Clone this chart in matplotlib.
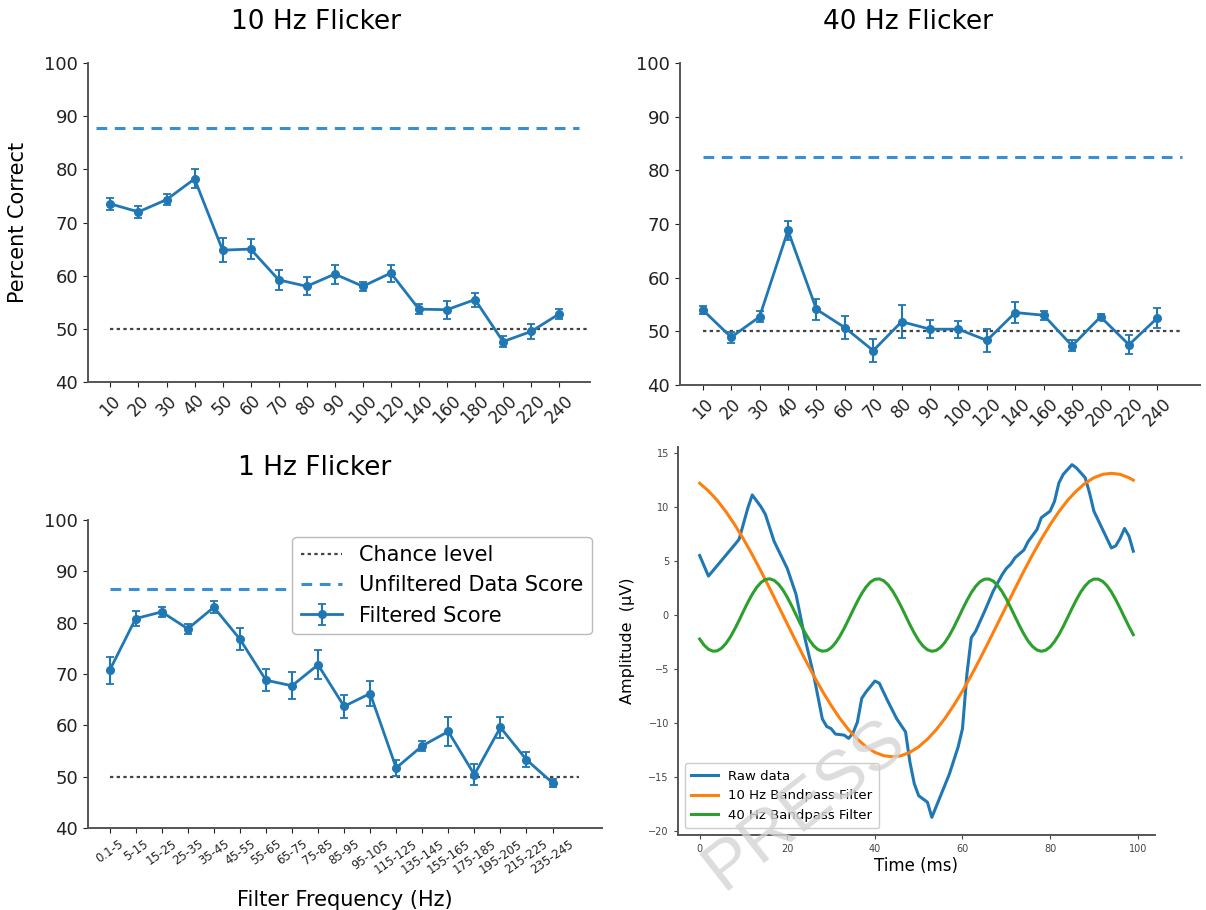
import matplotlib.pyplot as plt
import numpy as np

plt.rcParams['font.family'] = ['DejaVu Sans']

# --- decoding scores ---
freq_labels = ['10', '20', '30', '40', '50', '60', '70', '80', '90', '100',
               '120', '140', '160', '180', '200', '220', '240']

score_10hz = [73.5, 72.0, 74.3, 78.2, 64.8, 65.0, 59.2, 58.0, 60.3, 58.0,
              60.5, 53.7, 53.6, 55.5, 47.6, 49.5, 52.8]
err_10hz = [1.2, 1.1, 1.0, 1.8, 2.3, 1.9, 1.9, 1.7, 1.8, 0.8,
            1.6, 1.0, 1.7, 1.3, 1.0, 1.5, 1.0]
unfilt_10hz = 87.7

score_40hz = [54.0, 48.9, 52.7, 68.8, 54.1, 50.7, 46.4, 51.8, 50.4, 50.4,
              48.3, 53.5, 53.0, 47.3, 52.7, 47.5, 52.5]
err_40hz = [0.7, 1.0, 1.0, 1.8, 1.9, 2.2, 2.2, 3.1, 1.7, 1.6,
            2.1, 2.0, 0.8, 1.0, 0.6, 1.8, 1.8]
unfilt_40hz = 82.4

band_labels = ['0.1-5', '5-15', '15-25', '25-35', '35-45', '45-55', '55-65',
               '65-75', '75-85', '85-95', '95-105', '115-125', '135-145',
               '155-165', '175-185', '195-205', '215-225', '235-245']
score_1hz = [70.7, 80.8, 82.1, 78.8, 83.0, 76.8, 68.8, 67.7, 71.8, 63.7,
             66.2, 51.7, 56.0, 58.8, 50.4, 59.6, 53.3, 48.8]
err_1hz = [2.7, 1.5, 1.0, 1.0, 1.2, 2.2, 2.1, 2.6, 2.8, 2.3,
           2.5, 1.5, 1.0, 2.8, 2.0, 2.0, 1.5, 0.8]
unfilt_1hz = 86.5

chance = 50

# --- example trace (ms, uV) ---
raw_t = [0, 2, 8, 9, 11, 12, 14, 15, 17, 20, 22, 24, 26, 28, 29, 30, 31, 33,
         34, 35, 36, 37, 38, 40, 41, 43, 45, 47, 48, 49, 50, 52, 53, 55, 57,
         59, 60, 61, 62, 63, 65, 67, 69, 70, 71, 72, 74, 75, 77, 78, 79, 80,
         81, 82, 83, 85, 86, 88, 89, 90, 92, 94, 95, 96, 97, 98, 99]
raw_v = [5.5, 3.6, 6.5, 7.0, 9.9, 11.1, 10.0, 9.3, 6.8, 4.3, 1.9, -2.1, -5.5,
         -9.6, -10.3, -10.5, -11.0, -11.1, -11.4, -10.9, -9.9, -7.7, -7.1,
         -6.1, -6.3, -8.0, -9.6, -10.8, -13.6, -15.6, -16.7, -17.3, -18.7,
         -16.7, -14.7, -12.2, -10.5, -5.5, -2.1, -1.5, 0.3, 2.2, 3.7, 4.3, 4.7,
         5.3, 6.0, 6.8, 7.9, 9.0, 9.3, 9.6, 10.5, 12.2, 13.0, 13.9, 13.6, 12.7,
         11.3, 9.6, 7.9, 6.2, 6.4, 7.1, 8.0, 7.3, 5.9]

bp10_t = [0, 2, 4, 6, 8, 10, 12, 14, 16, 18, 20, 22, 24, 26, 28, 30, 32, 34,
          36, 38, 40, 42, 44, 46, 48, 50, 52, 54, 56, 58, 60, 62, 64, 66, 68,
          70, 72, 74, 76, 78, 80, 82, 84, 86, 88, 90, 92, 94, 96, 98, 99]
bp10_v = [12.18, 11.47, 10.60, 9.55, 8.35, 7.02, 5.58, 4.05, 2.45, 0.82,
          -0.82, -2.45, -4.05, -5.58, -7.02, -8.35, -9.55, -10.60, -11.47,
          -12.18, -12.69, -13.0, -13.1, -13.0, -12.69, -12.18, -11.47, -10.60,
          -9.55, -8.35, -7.02, -5.58, -4.05, -2.45, -0.82, 0.82, 2.45, 4.05,
          5.58, 7.02, 8.35, 9.55, 10.60, 11.47, 12.18, 12.69, 13.0, 13.1, 13.0,
          12.69, 12.46]

bp40_t = list(range(100))
bp40_v = [-2.22, -2.78, -3.16, -3.34, -3.31, -3.06, -2.63, -2.03, -1.30, -0.49,
          0.36, 1.18, 1.92, 2.55, 3.01, 3.28, 3.35, 3.20, 2.85, 2.32,
          1.64, 0.86, 0.02, -0.82, -1.60, -2.28, -2.83, -3.19, -3.34, -3.29,
          -3.03, -2.58, -1.96, -1.22, -0.40, 0.44, 1.26, 1.99, 2.60, 3.05,
          3.30, 3.34, 3.17, 2.80, 2.25, 1.56, 0.78, -0.06, -0.90, -1.67,
          -2.35, -2.87, -3.21, -3.35, -3.27, -2.99, -2.52, -1.89, -1.14, -0.32,
          0.53, 1.34, 2.06, 2.65, 3.08, 3.31, 3.33, 3.14, 2.75, 2.19,
          1.49, 0.69, -0.15, -0.98, -1.75, -2.41, -2.91, -3.23, -3.35, -3.25,
          -2.95, -2.46, -1.82, -1.06, -0.23, 0.61, 1.41, 2.13, 2.70, 3.11,
          3.32, 3.32, 3.11, 2.71, 2.13, 1.41, 0.61, -0.23, -1.06, -1.82]

W, H = 1206, 910
fig = plt.figure(figsize=(W / 100, H / 100), dpi=100)


def px_axes(left, top, right, bottom):
    # axes box given in picture pixels
    return fig.add_axes([left / W, 1 - bottom / H, (right - left) / W, (bottom - top) / H])


def style_spines(ax):
    for s in ['top', 'right']:
        ax.spines[s].set_visible(False)
    for s in ['left', 'bottom']:
        ax.spines[s].set_color('#555555')
        ax.spines[s].set_linewidth(1.4)


def score_panel(ax, labels, scores, errs, unfilt, dash_span, dot_span, xlim,
                rot, tick_fs):
    x = np.arange(len(labels))
    ax.hlines(chance, dot_span[0], dot_span[1], colors='#444444',
              linestyles=(0, (1.5, 1.5)), linewidth=1.6, label='Chance level')
    ax.hlines(unfilt, dash_span[0], dash_span[1], colors='#3a8ed4',
              linestyles=(0, (3.5, 2.5)), linewidth=2.2, label='Unfiltered Data Score')
    ax.errorbar(x, scores, yerr=errs, color='#1f77b4', marker='o', ms=5.5,
                lw=2, elinewidth=1.5, capsize=3, capthick=1.3, label='Filtered Score')
    ax.set_ylim(40, 100)
    ax.set_xlim(*xlim)
    ax.set_yticks([40, 50, 60, 70, 80, 90, 100])
    ax.set_xticks(x)
    ax.set_xticklabels(labels, rotation=rot, fontsize=tick_fs)
    ax.tick_params(axis='y', labelsize=13, colors='#222222')
    ax.tick_params(axis='x', colors='#222222')
    style_spines(ax)


# 10 Hz flicker
ax1 = px_axes(88, 63, 590, 382)
score_panel(ax1, freq_labels, score_10hz, err_10hz, unfilt_10hz,
            (-0.5, 16.7), (0, 17.1), (-0.8, 17.1), 45, 12)
ax1.set_ylabel('Percent Correct', fontsize=15, labelpad=12)
fig.text(316 / W, 1 - 22 / H, '10 Hz Flicker', fontsize=19, ha='center', va='center')

# 40 Hz flicker
ax2 = px_axes(680, 63, 1200, 385)
score_panel(ax2, freq_labels, score_40hz, err_40hz, unfilt_40hz,
            (0, 16.85), (0, 16.85), (-0.8, 17.5), 45, 12)
fig.text(908 / W, 1 - 22 / H, '40 Hz Flicker', fontsize=19, ha='center', va='center')

# 1 Hz flicker
ax3 = px_axes(88, 520, 602, 828)
score_panel(ax3, band_labels, score_1hz, err_1hz, unfilt_1hz,
            (0, 18.0), (0, 18.0), (-0.83, 18.9), 35, 8.5)
ax3.set_xlabel('Filter Frequency (Hz)', fontsize=15, labelpad=10)
fig.text(315 / W, 1 - 468 / H, '1 Hz Flicker', fontsize=19, ha='center', va='center')
leg = ax3.legend(loc='upper right', fontsize=15, framealpha=1, borderpad=0.4,
                 handlelength=2.0, bbox_to_anchor=(1.0, 0.98))
leg.get_frame().set_edgecolor('#bbbbbb')

# example signal
ax4 = px_axes(678, 447, 1155, 835)
ax4.plot(raw_t, raw_v, color='#1f77b4', lw=2.2, label='Raw data')
ax4.plot(bp10_t, bp10_v, color='#ff7f0e', lw=2.2, label='10 Hz Bandpass Filter')
ax4.plot(bp40_t, bp40_v, color='#2ca02c', lw=2.2, label='40 Hz Bandpass Filter')
ax4.set_xticks([0, 20, 40, 60, 80, 100])
ax4.set_yticks([-20, -15, -10, -5, 0, 5, 10, 15])
ax4.tick_params(labelsize=7, colors='#444444', length=3)
ax4.set_xlabel('Time (ms)', fontsize=12, labelpad=2)
ax4.set_ylabel('Amplitude  (μV)', fontsize=11.5, labelpad=10)
style_spines(ax4)
leg4 = ax4.legend(loc='lower left', fontsize=9.5, framealpha=1, borderpad=0.5)
leg4.get_frame().set_edgecolor('#cccccc')

# faint watermark from the source page
fig.text(805 / W, 1 - 805 / H, 'PRESS', fontsize=50, color='#d4d4d4',
         family=['Liberation Sans', 'DejaVu Sans'], alpha=0.8,
         rotation=38, ha='center', va='center', zorder=10)

fig.savefig('out.png', dpi=100)
